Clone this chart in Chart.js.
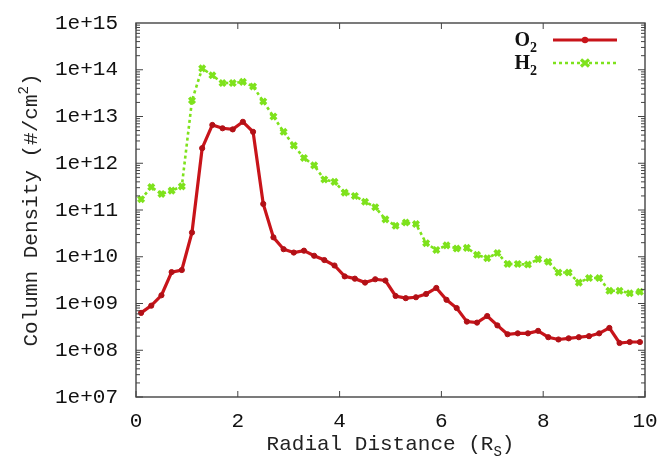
<!DOCTYPE html>
<html>
<head>
<meta charset="utf-8">
<title>Column Density</title>
<script src="https://cdn.jsdelivr.net/npm/chart.js@4/dist/chart.umd.min.js"></script>
<style>
    body { margin: 0; background: #fff; }
    #chart { display: block; }
</style>
</head>
<body>
<canvas id="chart" width="668" height="460"></canvas>
<script>
// Radial distance (R_S) of each sample
const radialDistance = [
    0.1, 0.3, 0.5, 0.7, 0.9, 1.1, 1.3, 1.5, 1.7, 1.9,
    2.1, 2.3, 2.5, 2.7, 2.9, 3.1, 3.3, 3.5, 3.7, 3.9,
    4.1, 4.3, 4.5, 4.7, 4.9, 5.1, 5.3, 5.5, 5.7, 5.9,
    6.1, 6.3, 6.5, 6.7, 6.9, 7.1, 7.3, 7.5, 7.7, 7.9,
    8.1, 8.3, 8.5, 8.7, 8.9, 9.1, 9.3, 9.5, 9.7, 9.9
];

// Column density O2 (#/cm^2)
const densityO2 = [
    6.3e8, 9.0e8, 1.5e9, 4.7e9, 5.2e9, 3.3e10, 2.1e12, 6.6e12, 5.6e12, 5.3e12,
    7.7e12, 4.7e12, 1.35e11, 2.6e10, 1.45e10, 1.23e10, 1.35e10, 1.05e10, 8.5e9, 6.5e9,
    3.8e9, 3.4e9, 2.8e9, 3.3e9, 3.1e9, 1.45e9, 1.3e9, 1.36e9, 1.6e9, 2.15e9,
    1.2e9, 8.0e8, 4.1e8, 3.9e8, 5.4e8, 3.4e8, 2.2e8, 2.3e8, 2.3e8, 2.6e8,
    1.9e8, 1.7e8, 1.8e8, 1.9e8, 2.0e8, 2.3e8, 3.0e8, 1.43e8, 1.5e8, 1.5e8
];

// Column density H2 (#/cm^2)
const densityH2 = [
    1.7e11, 3.1e11, 2.2e11, 2.6e11, 3.2e11, 2.2e13, 1.07e14, 7.6e13, 5.2e13, 5.2e13,
    5.5e13, 4.4e13, 2.1e13, 1.0e13, 4.7e12, 2.4e12, 1.3e12, 9.0e11, 4.5e11, 4.0e11,
    2.35e11, 2.0e11, 1.5e11, 1.15e11, 6.3e10, 4.6e10, 5.4e10, 5.0e10, 1.95e10, 1.4e10,
    1.75e10, 1.5e10, 1.55e10, 1.1e10, 9.3e9, 1.2e10, 7.0e9, 7.0e9, 6.8e9, 8.9e9,
    7.8e9, 4.6e9, 4.6e9, 2.8e9, 3.5e9, 3.5e9, 1.87e9, 1.87e9, 1.65e9, 1.78e9
];

const xTicks = [0, 2, 4, 6, 8, 10];
const yTickLabels = ['1e+07', '1e+08', '1e+09', '1e+10', '1e+11', '1e+12', '1e+13', '1e+14', '1e+15'];

const RED = '#c8141a';
const GREEN = '#7ee21c';
const MONO = '"Liberation Mono", "DejaVu Sans Mono", monospace';
const SERIF = '"Liberation Serif", "DejaVu Serif", serif';

function toPoints(values) {
    return values.map((v, i) => ({ x: radialDistance[i], y: v }));
}

// draw "main" + small script text, returns end x
function drawScripted(ctx, parts, x, y, size, family, weight) {
    weight = weight || '';
    parts.forEach(p => {
        const s = p.script ? Math.round(size * 0.68) : size;
        const dy = p.script === 'sub' ? size * 0.28 : p.script === 'sup' ? -size * 0.42 : 0;
        ctx.font = weight + ' ' + s + 'px ' + family;
        ctx.fillText(p.text, x, y + dy);
        x += ctx.measureText(p.text).width;
    });
    return x;
}

function measureScripted(ctx, parts, size, family, weight) {
    weight = weight || '';
    let w = 0;
    parts.forEach(p => {
        const s = p.script ? Math.round(size * 0.68) : size;
        ctx.font = weight + ' ' + s + 'px ' + family;
        w += ctx.measureText(p.text).width;
    });
    return w;
}

// Frame, inward ticks, axis titles and legend
const gnuplotDecor = {
    id: 'gnuplotDecor',
    afterDraw(chart) {
        const ctx = chart.ctx;
        const area = chart.chartArea;
        const xs = chart.scales.x;
        const ys = chart.scales.y;
        ctx.save();

        ctx.strokeStyle = '#444';
        ctx.lineWidth = 1.4;
        ctx.strokeRect(area.left, area.top, area.right - area.left, area.bottom - area.top);

        ctx.lineWidth = 1;
        xTicks.forEach(v => {
            const px = xs.getPixelForValue(v);
            ctx.beginPath();
            ctx.moveTo(px, area.bottom); ctx.lineTo(px, area.bottom - 6);
            ctx.moveTo(px, area.top); ctx.lineTo(px, area.top + 6);
            ctx.stroke();
        });
        for (let e = 7; e < 15; e++) {
            for (let m = 1; m <= 9; m++) {
                const py = ys.getPixelForValue(m * Math.pow(10, e));
                const len = m === 1 ? 7 : 4;
                ctx.beginPath();
                ctx.moveTo(area.left, py); ctx.lineTo(area.left + len, py);
                ctx.moveTo(area.right, py); ctx.lineTo(area.right - len, py);
                ctx.stroke();
            }
        }

        // axis titles
        ctx.fillStyle = '#222';
        ctx.textBaseline = 'alphabetic';
        ctx.textAlign = 'left';
        const xTitle = [{ text: 'Radial Distance (R' }, { text: 'S', script: 'sub' }, { text: ')' }];
        const xw = measureScripted(ctx, xTitle, 21, MONO);
        drawScripted(ctx, xTitle, (area.left + area.right) / 2 - xw / 2, 450, 21, MONO);

        const yTitle = [{ text: 'Column Density (#/cm' }, { text: '2', script: 'sup' }, { text: ')' }];
        const yw = measureScripted(ctx, yTitle, 21, MONO);
        ctx.save();
        ctx.translate(37, 210);
        ctx.rotate(-Math.PI / 2);
        drawScripted(ctx, yTitle, -yw / 2, 0, 21, MONO);
        ctx.restore();

        // legend
        const legend = [
            { name: 'O', y: 40, color: RED, dash: [], style: 'o2' },
            { name: 'H', y: 63, color: GREEN, dash: [3, 3], style: 'h2' }
        ];
        legend.forEach(item => {
            const parts = [{ text: item.name }, { text: '2', script: 'sub' }];
            const w = measureScripted(ctx, parts, 20, SERIF, 'bold');
            ctx.fillStyle = '#111';
            drawScripted(ctx, parts, 537 - w, item.y + 6, 20, SERIF, 'bold');

            ctx.strokeStyle = item.color;
            ctx.lineWidth = item.style === 'o2' ? 3 : 2.5;
            ctx.setLineDash(item.dash);
            ctx.beginPath();
            ctx.moveTo(553, item.y); ctx.lineTo(617, item.y);
            ctx.stroke();
            ctx.setLineDash([]);
            if (item.style === 'o2') {
                ctx.fillStyle = RED;
                ctx.beginPath();
                ctx.arc(585, item.y, 3.2, 0, Math.PI * 2);
                ctx.fill();
            } else {
                ctx.lineWidth = 3.2;
                ctx.beginPath();
                ctx.moveTo(581, item.y - 3.5); ctx.lineTo(589, item.y + 3.5);
                ctx.moveTo(581, item.y + 3.5); ctx.lineTo(589, item.y - 3.5);
                ctx.stroke();
            }
        });

        ctx.restore();
    }
};

new Chart(document.getElementById('chart'), {
    type: 'line',
    data: {
        datasets: [
            {
                label: 'O2',
                data: toPoints(densityO2),
                borderColor: RED,
                backgroundColor: RED,
                borderWidth: 3.2,
                pointStyle: 'circle',
                pointRadius: 2.6,
                pointBorderWidth: 1,
                pointBackgroundColor: '#b21016',
                pointBorderColor: '#b21016',
                tension: 0
            },
            {
                label: 'H2',
                data: toPoints(densityH2),
                borderColor: GREEN,
                backgroundColor: GREEN,
                borderWidth: 2.6,
                borderDash: [3, 3],
                pointStyle: 'crossRot',
                pointRadius: 4,
                pointBorderWidth: 3.4,
                pointBorderColor: GREEN,
                tension: 0
            }
        ]
    },
    options: {
        responsive: false,
        animation: false,
        layout: { padding: { left: 0, right: 23, top: 23, bottom: 0 } },
        plugins: {
            legend: { display: false },
            tooltip: { enabled: false }
        },
        scales: {
            x: {
                type: 'linear',
                min: 0,
                max: 10,
                border: { display: false },
                grid: { display: false },
                afterBuildTicks: scale => { scale.ticks = xTicks.map(v => ({ value: v })); },
                afterFit: scale => { scale.height = 63; },
                ticks: {
                    padding: 4,
                    color: '#111',
                    font: { family: MONO, size: 21 },
                    maxRotation: 0,
                    callback: v => String(v)
                }
            },
            y: {
                type: 'logarithmic',
                min: 1e7,
                max: 1e15,
                border: { display: false },
                grid: { display: false },
                afterBuildTicks: scale => {
                    scale.ticks = yTickLabels.map(t => ({ value: Number(t) }));
                },
                afterFit: scale => { scale.width = 136; },
                ticks: {
                    padding: 10,
                    color: '#111',
                    font: { family: MONO, size: 21 },
                    callback: (v, i) => yTickLabels[i]
                }
            }
        }
    },
    plugins: [gnuplotDecor]
});
</script>
</body>
</html>
